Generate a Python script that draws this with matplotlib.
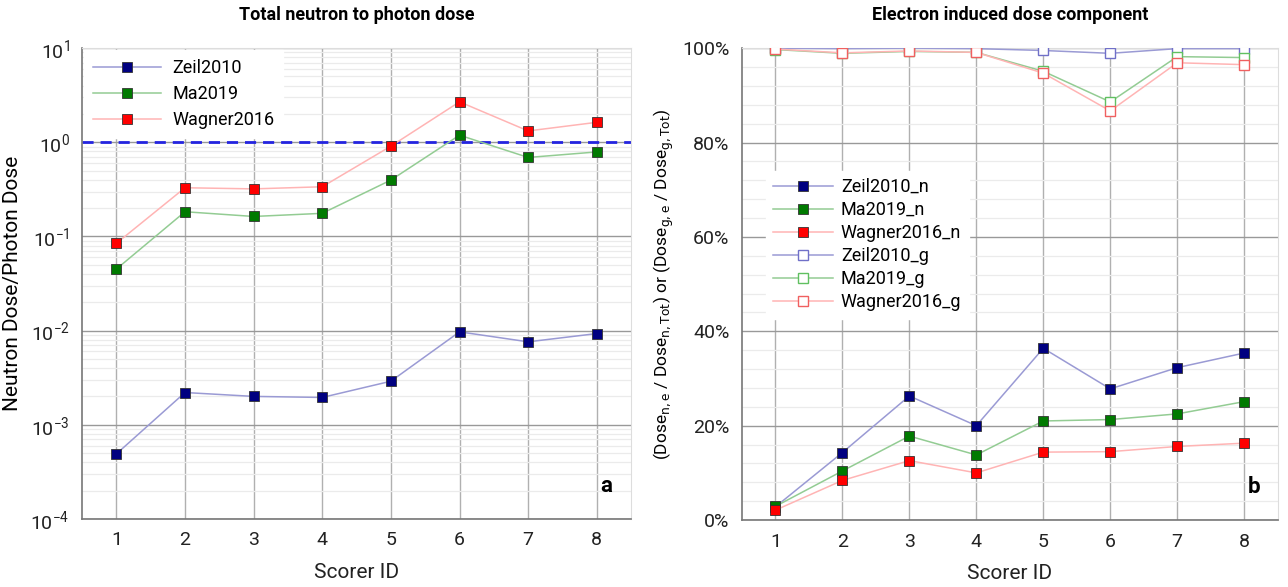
import numpy as np
import matplotlib.pyplot as plt
from matplotlib.ticker import FixedLocator, FuncFormatter, LogLocator, NullFormatter

plt.rcParams['font.family'] = ['Roboto', 'DejaVu Sans']

scorer = [1, 2, 3, 4, 5, 6, 7, 8]

# neutron / photon dose ratio
zeil_ratio = [4.9e-4, 2.2e-3, 2.0e-3, 1.95e-3, 2.9e-3, 9.7e-3, 7.6e-3, 9.3e-3]
ma_ratio = [0.045, 0.183, 0.163, 0.176, 0.397, 1.19, 0.69, 0.79]
wagner_ratio = [0.0845, 0.329, 0.32, 0.337, 0.91, 2.69, 1.32, 1.63]

# electron induced fraction (%), neutron and gamma
zeil_n = [2.8, 14.3, 26.3, 20.0, 36.4, 27.8, 32.3, 35.4]
ma_n = [2.9, 10.4, 17.8, 13.8, 21.0, 21.3, 22.5, 25.1]
wagner_n = [2.1, 8.4, 12.6, 10.0, 14.4, 14.5, 15.6, 16.3]
zeil_g = [100.0, 99.9, 100.0, 99.9, 99.5, 98.9, 99.9, 99.9]
ma_g = [99.7, 98.9, 99.3, 99.1, 95.1, 88.6, 98.2, 98.0]
wagner_g = [99.8, 99.0, 99.4, 99.1, 94.7, 86.7, 96.9, 96.5]

series = [
    ('Zeil2010', '#9a9ad4', '#000080'),
    ('Ma2019', '#93cc93', '#007a00'),
    ('Wagner2016', '#ffb4b4', '#ff0000'),
]
open_edge = ['#7070c8', '#60c060', '#f06060']

fig = plt.figure(figsize=(12.88, 5.87), dpi=100)
ax1 = fig.add_axes([0.0637, 0.116, 0.4263, 0.802])
ax2 = fig.add_axes([0.576, 0.114, 0.416, 0.804])

for ax in (ax1, ax2):
    ax.set_xlim(0.5, 8.5)
    ax.xaxis.set_major_locator(FixedLocator(scorer))
    ax.tick_params(length=0, labelsize=14, pad=9, colors='#222222')
    ax.set_xlabel('Scorer ID', fontsize=15, labelpad=10, color='#222222')
    ax.grid(axis='x', color='#b0b0b0', lw=1.0)
    ax.set_axisbelow(True)
    for side in ('left', 'bottom'):
        ax.spines[side].set_color('#777777')
        ax.spines[side].set_linewidth(1.2)
    for side in ('top', 'right'):
        ax.spines[side].set_color('#dddddd')

# left panel
ax1.set_yscale('log')
ax1.set_ylim(1e-4, 10)
ax1.yaxis.set_major_locator(LogLocator(base=10, numticks=10))
ax1.yaxis.set_minor_locator(LogLocator(base=10, subs=np.arange(2, 10), numticks=20))
ax1.yaxis.set_minor_formatter(NullFormatter())
ax1.tick_params(axis='y', which='both', length=0)
ax1.grid(axis='y', which='major', color='#999999', lw=1.0)
ax1.grid(axis='y', which='minor', color='#ebebeb', lw=0.9)
ax1.axhline(1.0, color='#2424e0', lw=2, ls=(0, (4, 2.5)), zorder=2)

for (name, lc, mc), vals in zip(series, [zeil_ratio, ma_ratio, wagner_ratio]):
    ax1.plot(scorer, vals, color=lc, lw=1.1, marker='s', ms=7.5,
             mfc=mc, mec='#333333', mew=0.6, label=name, zorder=3)

ax1.set_ylabel('Neutron Dose/Photon Dose', fontsize=15, labelpad=6)
ax1.set_title('Total neutron to photon dose', fontsize=13,
              fontweight='bold', pad=20)
ax1.legend(loc='upper left', fontsize=13, frameon=True,
           fancybox=False, edgecolor='white', framealpha=1,
           handlelength=3.8, handletextpad=0.6, borderaxespad=0.1,
           labelspacing=0.45, borderpad=0.5)
ax1.text(0.955, 0.07, 'a', transform=ax1.transAxes, fontsize=16,
         fontweight='bold', ha='center', va='center')

# right panel
ax2.set_ylim(0, 100)
ax2.yaxis.set_major_locator(FixedLocator([0, 20, 40, 60, 80, 100]))
ax2.yaxis.set_minor_locator(FixedLocator(np.arange(0, 101, 4)))
ax2.yaxis.set_major_formatter(FuncFormatter(lambda v, p: f'{v:.0f}%'))
ax2.tick_params(axis='y', which='both', length=0)
ax2.grid(axis='y', which='major', color='#999999', lw=1.0)
ax2.grid(axis='y', which='minor', color='#ebebeb', lw=0.9)

for (name, lc, mc), vals in zip(series, [zeil_n, ma_n, wagner_n]):
    ax2.plot(scorer, vals, color=lc, lw=1.1, marker='s', ms=7.5,
             mfc=mc, mec='#333333', mew=0.6, label=name + '_n', zorder=3)
for (name, lc, mc), ec, vals in zip(series, open_edge, [zeil_g, ma_g, wagner_g]):
    ax2.plot(scorer, vals, color=lc, lw=1.1, marker='s', ms=7.5,
             mfc='white', mec=ec, mew=1.0, label=name + '_g', zorder=3)

ax2.set_ylabel(r'(Dose$_{\mathrm{n,e}}$ / Dose$_{\mathrm{n,Tot}}$) or '
               r'(Dose$_{\mathrm{g,e}}$ / Dose$_{\mathrm{g,Tot}}$)',
               fontsize=12.5, labelpad=4)
ax2.set_title('Electron induced dose component', fontsize=13,
              fontweight='bold', pad=20)
ax2.legend(loc='upper left', bbox_to_anchor=(0.045, 0.74), fontsize=13,
           frameon=True, fancybox=False, edgecolor='white', framealpha=1,
           handlelength=3.3, handletextpad=0.45, borderaxespad=0,
           labelspacing=0.28, borderpad=0.4)
ax2.text(0.955, 0.07, 'b', transform=ax2.transAxes, fontsize=16,
         fontweight='bold', ha='center', va='center')

fig.savefig('out.png', dpi=100)
